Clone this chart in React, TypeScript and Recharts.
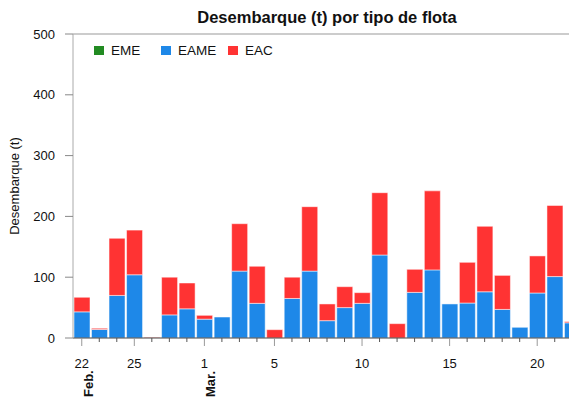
import React from 'react';
import { BarChart, Bar, XAxis, YAxis, ReferenceLine } from 'recharts';

const dates = [
  '02-22', '02-23', '02-24', '02-25', '02-26', '02-27', '02-28',
  '03-01', '03-02', '03-03', '03-04', '03-05', '03-06', '03-07', '03-08', '03-09', '03-10',
  '03-11', '03-12', '03-13', '03-14', '03-15', '03-16', '03-17', '03-18', '03-19', '03-20',
  '03-21', '03-22',
];
const labeledDates = ['02-22', '02-25', '03-01', '03-05', '03-10', '03-15', '03-20'];
const monthStarts = ['02-22', '03-01'];
const monthNames = ['Feb.', 'Mar.'];

const eme = dates.map(() => 0);
const eame = [
  43, 14, 70, 104, 0, 38, 48,
  31, 34.5, 110, 57, 0, 65, 110, 28.5, 50, 57,
  136.5, 0, 75, 112, 56, 57.5, 76, 47, 17.5, 74,
  101, 25,
];
const eac = [
  24, 2, 94, 73.5, 1, 62, 42.5,
  6.3, 0, 78, 61, 13.7, 35, 106, 27.5, 34.4, 17.6,
  102.5, 23.6, 38, 130, 0, 67, 107.7, 56, 0, 61,
  117, 2,
];
const yTicks = [0, 100, 200, 300, 400, 500];

const series = [
  { key: 'EME', color: '#228b22' },
  { key: 'EAME', color: '#1e88e8' },
  { key: 'EAC', color: '#ff3333' },
];

const data = dates.map((date, i) => ({ date, EME: eme[i], EAME: eame[i], EAC: eac[i] }));

const FONT = '"Liberation Sans", Arial, sans-serif';

function DateTick(props: any) {
  const { x, y, payload } = props;
  const v: string = payload.value;
  const major = labeledDates.includes(v);
  const m = monthStarts.indexOf(v);
  return (
    <g>
      <line x1={x} y1={y} x2={x} y2={y + (major ? 8 : 4)} stroke={major ? '#999' : '#555'} strokeWidth={1} />
      {major && (
        <text x={x} y={y + 30} textAnchor="middle" fontSize={13} fill="#111" fontFamily={FONT}>
          {String(Number(v.slice(3)))}
        </text>
      )}
      {m >= 0 && (
        <text
          transform={`translate(${x + 11},${y + 59}) rotate(-90)`}
          textAnchor="start"
          fontSize={13}
          fontWeight="bold"
          fill="#111"
          fontFamily={FONT}
        >
          {monthNames[m]}
        </text>
      )}
    </g>
  );
}

function YLabel(props: any) {
  const { viewBox } = props;
  const cy = viewBox.y + viewBox.height / 2;
  return (
    <text
      transform={`translate(19,${cy}) rotate(-90)`}
      textAnchor="middle"
      fontSize={13}
      fill="#111"
      fontFamily={FONT}
    >
      Desembarque (t)
    </text>
  );
}

export default function App() {
  return (
    <div
      style={{
        position: 'absolute', left: 0, top: 0, width: 569, height: 403,
        overflow: 'hidden', background: '#fff', fontFamily: FONT,
      }}
    >
      <div
        style={{
          position: 'absolute', left: 73, width: 508, top: 9, textAlign: 'center',
          fontSize: 16.5, lineHeight: '16px', fontWeight: 'bold', color: '#111',
        }}
      >
        Desembarque (t) por tipo de flota
      </div>
      <BarChart
        width={581}
        height={403}
        data={data}
        margin={{ top: 34, right: 0, bottom: 0, left: 0 }}
        barCategoryGap={1}
      >
        <XAxis
          dataKey="date"
          height={65}
          interval={0}
          tickSize={0}
          tickMargin={0}
          tickLine={false}
          axisLine={{ stroke: '#444' }}
          tick={<DateTick />}
        />
        <YAxis
          width={73}
          domain={[0, 500]}
          ticks={yTicks}
          tickSize={8}
          tickMargin={10}
          tickLine={{ stroke: '#888' }}
          axisLine={{ stroke: '#aaa' }}
          tick={{ fontSize: 13, fill: '#111', fontFamily: FONT }}
          label={{ value: 'Desembarque (t)', content: <YLabel /> }}
        />
        <ReferenceLine y={500} stroke="#999" />
        {series.map((s) => (
          <Bar
            key={s.key}
            dataKey={s.key}
            stackId="a"
            fill={s.color}
            stroke="rgba(255,255,255,0.5)"
            strokeWidth={1}
            isAnimationActive={false}
          />
        ))}
      </BarChart>
      <div style={{ position: 'absolute', left: 94, top: 44, display: 'flex' }}>
        {series.map((s) => (
          <div key={s.key} style={{ width: 67, display: 'flex', alignItems: 'center', fontSize: 13.5, lineHeight: '13px', color: '#111' }}>
            <span style={{ width: 10, height: 9, background: s.color, marginRight: 7 }} />
            {s.key}
          </div>
        ))}
      </div>
    </div>
  );
}
